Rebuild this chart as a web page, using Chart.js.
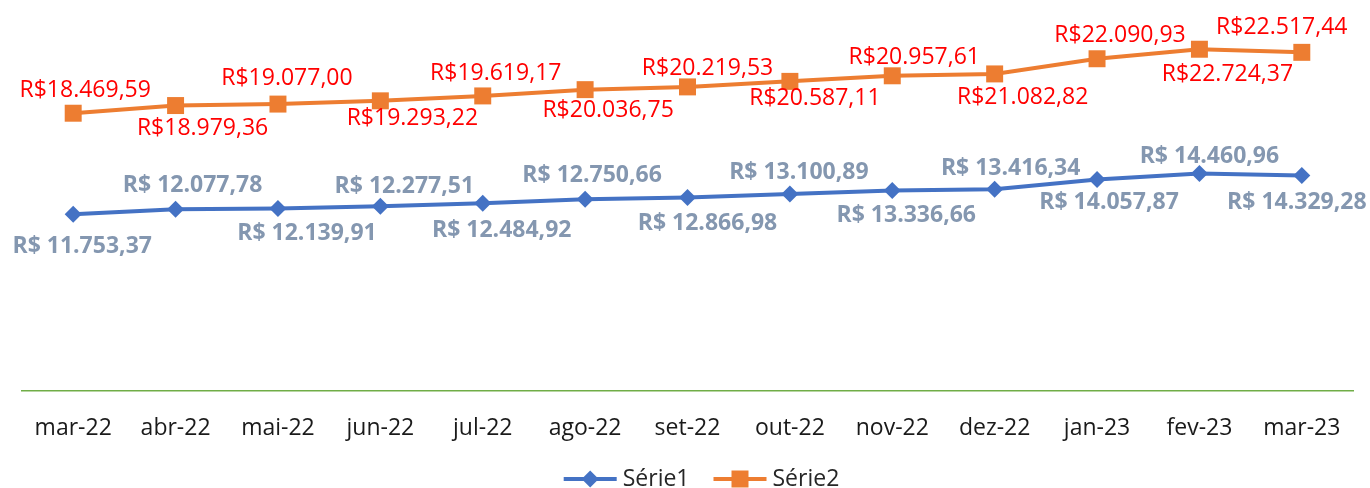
<!DOCTYPE html>
<html>
<head>
<meta charset="utf-8">
<script src="https://cdn.jsdelivr.net/npm/chart.js"></script>
<style>
  html, body { margin: 0; padding: 0; background: #ffffff; }
  #wrap { width: 1370px; height: 488px; }
</style>
</head>
<body>
<div id="wrap"><canvas id="c" width="1370" height="488"></canvas></div>
<script>
// ---- data ----
const categories = ['mar-22','abr-22','mai-22','jun-22','jul-22','ago-22','set-22','out-22','nov-22','dez-22','jan-23','fev-23','mar-23'];
const serie1 = [11753.37, 12077.78, 12139.91, 12277.51, 12484.92, 12750.66, 12866.98, 13100.89, 13336.66, 13416.34, 14057.87, 14460.96, 14329.28];
const serie2 = [18469.59, 18979.36, 19077.00, 19293.22, 19619.17, 20036.75, 20219.53, 20587.11, 20957.61, 21082.82, 22090.93, 22724.37, 22517.44];
const seriesNames = ['Série1', 'Série2'];

// ---- label placement (offsets from each point, in px) ----
const label1Dx = [9, 17, 29, 24, 19, 7, 20, 9, 14, 16, 12, 10, -5];
const label1Dy = [31, -26, 23, -22, 26, -25, 24, -23, 23, -22, 21, -19, 25];
const label2Dx = [12, 27, 9, 32, 13, 23, 20, 25, 22, 28, 23, 28, -20];
const label2Dy = [-24, 21, -27, 16, -24, 19, -20, 15, -20, 22, -25, 24, -27];

const FONT = '"Open Sans", "Noto Sans", sans-serif';
const BLUE = '#4472C4', ORANGE = '#ED7D31';

function fmt1(v) {
  const s = v.toFixed(2).split('.');
  return 'R$ ' + s[0].replace(/\B(?=(\d{3})+(?!\d))/g, '.') + ',' + s[1];
}
function fmt2(v) {
  const s = v.toFixed(2).split('.');
  return 'R$' + s[0].replace(/\B(?=(\d{3})+(?!\d))/g, '.') + ',' + s[1];
}

const labelPlugin = {
  id: 'valueLabels',
  afterDraw(chart) {
    const ctx = chart.ctx;
    const cfg = [
      { ds: 0, fmt: fmt1, dx: label1Dx, dy: label1Dy, color: '#8497B0', weight: 'bold' },
      { ds: 1, fmt: fmt2, dx: label2Dx, dy: label2Dy, color: '#FF0000', weight: 'normal' }
    ];
    const size = 23;
    ctx.save();
    ctx.textAlign = 'center';
    ctx.textBaseline = 'alphabetic';
    cfg.forEach(c => {
      const meta = chart.getDatasetMeta(c.ds);
      const vals = chart.data.datasets[c.ds].data;
      ctx.font = c.weight + ' ' + size + 'px ' + FONT;
      ctx.fillStyle = c.color;
      meta.data.forEach((pt, i) => {
        ctx.fillText(c.fmt(vals[i]), pt.x + c.dx[i], pt.y + c.dy[i] + size * 0.357);
      });
    });
    ctx.restore();
  }
};

function drawMarker(ctx, type, x, y) {
  ctx.beginPath();
  if (type === 'diamond') {
    const r = 8.5;
    ctx.moveTo(x, y - r); ctx.lineTo(x + r, y); ctx.lineTo(x, y + r); ctx.lineTo(x - r, y);
    ctx.closePath();
    ctx.fillStyle = BLUE;
  } else {
    const h = 8.5;
    ctx.rect(x - h, y - h, 2 * h, 2 * h);
    ctx.fillStyle = ORANGE;
  }
  ctx.fill();
}

const legendPlugin = {
  id: 'customLegend',
  afterDraw(chart) {
    const ctx = chart.ctx;
    const size = 23;
    ctx.save();
    ctx.font = size + 'px ' + FONT;
    const lineLen = 53, gap = 6, itemGap = 24;
    const items = [
      { name: seriesNames[0], color: BLUE, marker: 'diamond' },
      { name: seriesNames[1], color: ORANGE, marker: 'square' }
    ];
    let total = 0;
    items.forEach((it, i) => { it.w = ctx.measureText(it.name).width; total += lineLen + gap + it.w + (i ? itemGap : 0); });
    let x = (chart.chartArea.left + chart.chartArea.right) / 2 + 14 - total / 2;
    const y = chart.height - 9;
    items.forEach((it, i) => {
      if (i) x += itemGap;
      ctx.strokeStyle = it.color;
      ctx.lineWidth = 4;
      ctx.beginPath(); ctx.moveTo(x, y); ctx.lineTo(x + lineLen, y); ctx.stroke();
      drawMarker(ctx, it.marker, x + lineLen / 2, y);
      x += lineLen + gap;
      ctx.fillStyle = '#262626';
      ctx.textAlign = 'left';
      ctx.textBaseline = 'middle';
      ctx.fillText(it.name, x, y);
      x += it.w;
    });
    ctx.restore();
  }
};

new Chart(document.getElementById('c'), {
  type: 'line',
  data: {
    labels: categories,
    datasets: [
      {
        label: seriesNames[0], data: serie1,
        borderColor: BLUE, backgroundColor: BLUE, borderWidth: 4,
        pointStyle: 'rectRot', pointRadius: 8.5, pointHoverRadius: 8.5,
        pointBorderWidth: 0, tension: 0, clip: false
      },
      {
        label: seriesNames[1], data: serie2,
        borderColor: ORANGE, backgroundColor: ORANGE, borderWidth: 4,
        pointStyle: 'rect', pointRadius: 12, pointHoverRadius: 12,
        pointBorderWidth: 0, tension: 0, clip: false
      }
    ]
  },
  options: {
    responsive: false,
    animation: false,
    events: [],
    layout: { padding: { left: 22, right: 17, top: 15, bottom: 0 } },
    plugins: { legend: { display: false }, tooltip: { enabled: false } },
    scales: {
      y: { display: false, min: 0, max: 25000 },
      x: {
        offset: true,
        grid: { display: false, drawTicks: false, tickLength: 0 },
        border: { display: true, color: '#70AD47', width: 1.5 },
        ticks: { color: '#1a1a1a', font: { family: FONT, size: 23 }, padding: 24, maxRotation: 0, autoSkip: false },
        afterFit(scale) { scale.height = 97; }
      }
    }
  },
  plugins: [labelPlugin, legendPlugin]
});
</script>
</body>
</html>
